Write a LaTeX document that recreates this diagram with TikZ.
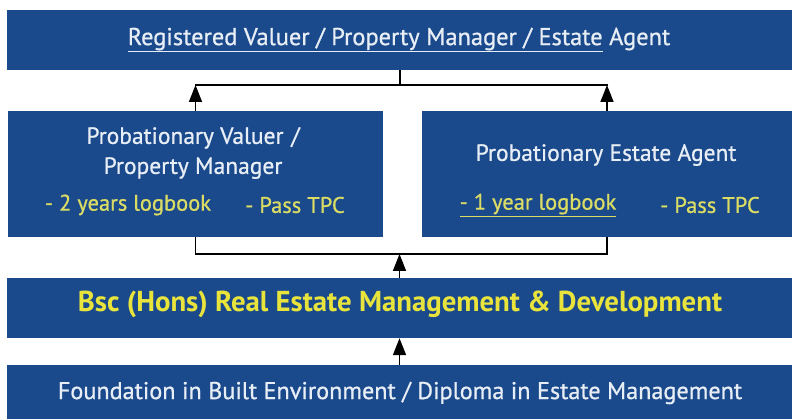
\documentclass[tikz,border=0pt]{standalone}
\usepackage{fontspec}
\setmainfont{PT Sans}
\newfontfamily\medfont[FakeBold=0.8]{PT Sans}
\usetikzlibrary{arrows.meta}

\definecolor{boxblue}{RGB}{27,74,140}
\definecolor{paletext}{RGB}{232,238,245}
\definecolor{bscyellow}{RGB}{232,228,60}
\definecolor{logyellow}{RGB}{218,220,100}

\begin{document}
\begin{tikzpicture}[x=1pt,y=1pt,
    box/.style={fill=boxblue, inner sep=0pt},
    whitetext/.style={text=paletext, font=\medfont\fontsize{23.5}{30}\selectfont, align=center},
    logtext/.style={text=logyellow, font=\medfont\fontsize{22.5}{25}\selectfont},
    link/.style={black, line width=1.6pt},
    uparrow/.style={link, -{Triangle[length=17pt,width=13pt]}}]
    \useasboundingbox (0,0) rectangle (792,419);
    \fill[white] (0,0) rectangle (792,419);

    % Blue boxes
    \node[box, minimum width=785pt, minimum height=60pt] (reg) at (399.5,379) {};
    \node[box, minimum width=375pt, minimum height=126pt] (pv) at (195.5,245) {};
    \node[box, minimum width=370pt, minimum height=126pt] (pe) at (607,245) {};
    \node[box, minimum width=785pt, minimum height=60pt] (bsc) at (399.5,111) {};
    \node[box, minimum width=785pt, minimum height=64pt] (found) at (399.5,22) {};

    % Texts in the boxes
    \node[whitetext, font=\medfont\fontsize{24.4}{25}\selectfont] (regtext) at (399,379)
        {\underline{Registered Valuer / Property Manager / Estate} Agent};
    \node[whitetext] (pvtitle) at (193,266) {Probationary Valuer\,\,/\\Property Manager};
    \node[logtext] (pvlog) at (128,214) {- 2 years logbook};
    \node[logtext] (pvtpc) at (295,214) {- Pass TPC};
    \node[whitetext] (petitle) at (606,264) {Probationary Estate Agent};
    \node[logtext] (pelog) at (538,214) {\underline{- 1 year logbook}};
    \node[logtext] (petpc) at (710,214) {- Pass TPC};
    \node[text=bscyellow, font=\bfseries\fontsize{28.8}{30}\selectfont] (bsctext) at (400,115)
        {Bsc (Hons) Real Estate Management \& Development};
    \node[whitetext, font=\medfont\fontsize{24.2}{25}\selectfont] (foundtext) at (400,26)
        {Foundation in Built Environment / Diploma in Estate Management};

    % Connectors
    \coordinate (topjoin) at (400,334);
    \coordinate (botjoin) at (400,165);
    \draw[link] (topjoin |- reg.south) -- (topjoin);
    \draw[link, line cap=rect] (pv.north |- topjoin) -- (pe.north |- topjoin);
    \draw[uparrow] (pv.north) -- (pv.north |- topjoin);
    \draw[uparrow] (pe.north) -- (pe.north |- topjoin);
    \draw[link] (pv.south) |- (botjoin) -| (pe.south);
    \draw[uparrow] (bsc.north) -- (bsc.north |- botjoin);
    \draw[uparrow] (found.north) -- (bsc.south);
\end{tikzpicture}
\end{document}
